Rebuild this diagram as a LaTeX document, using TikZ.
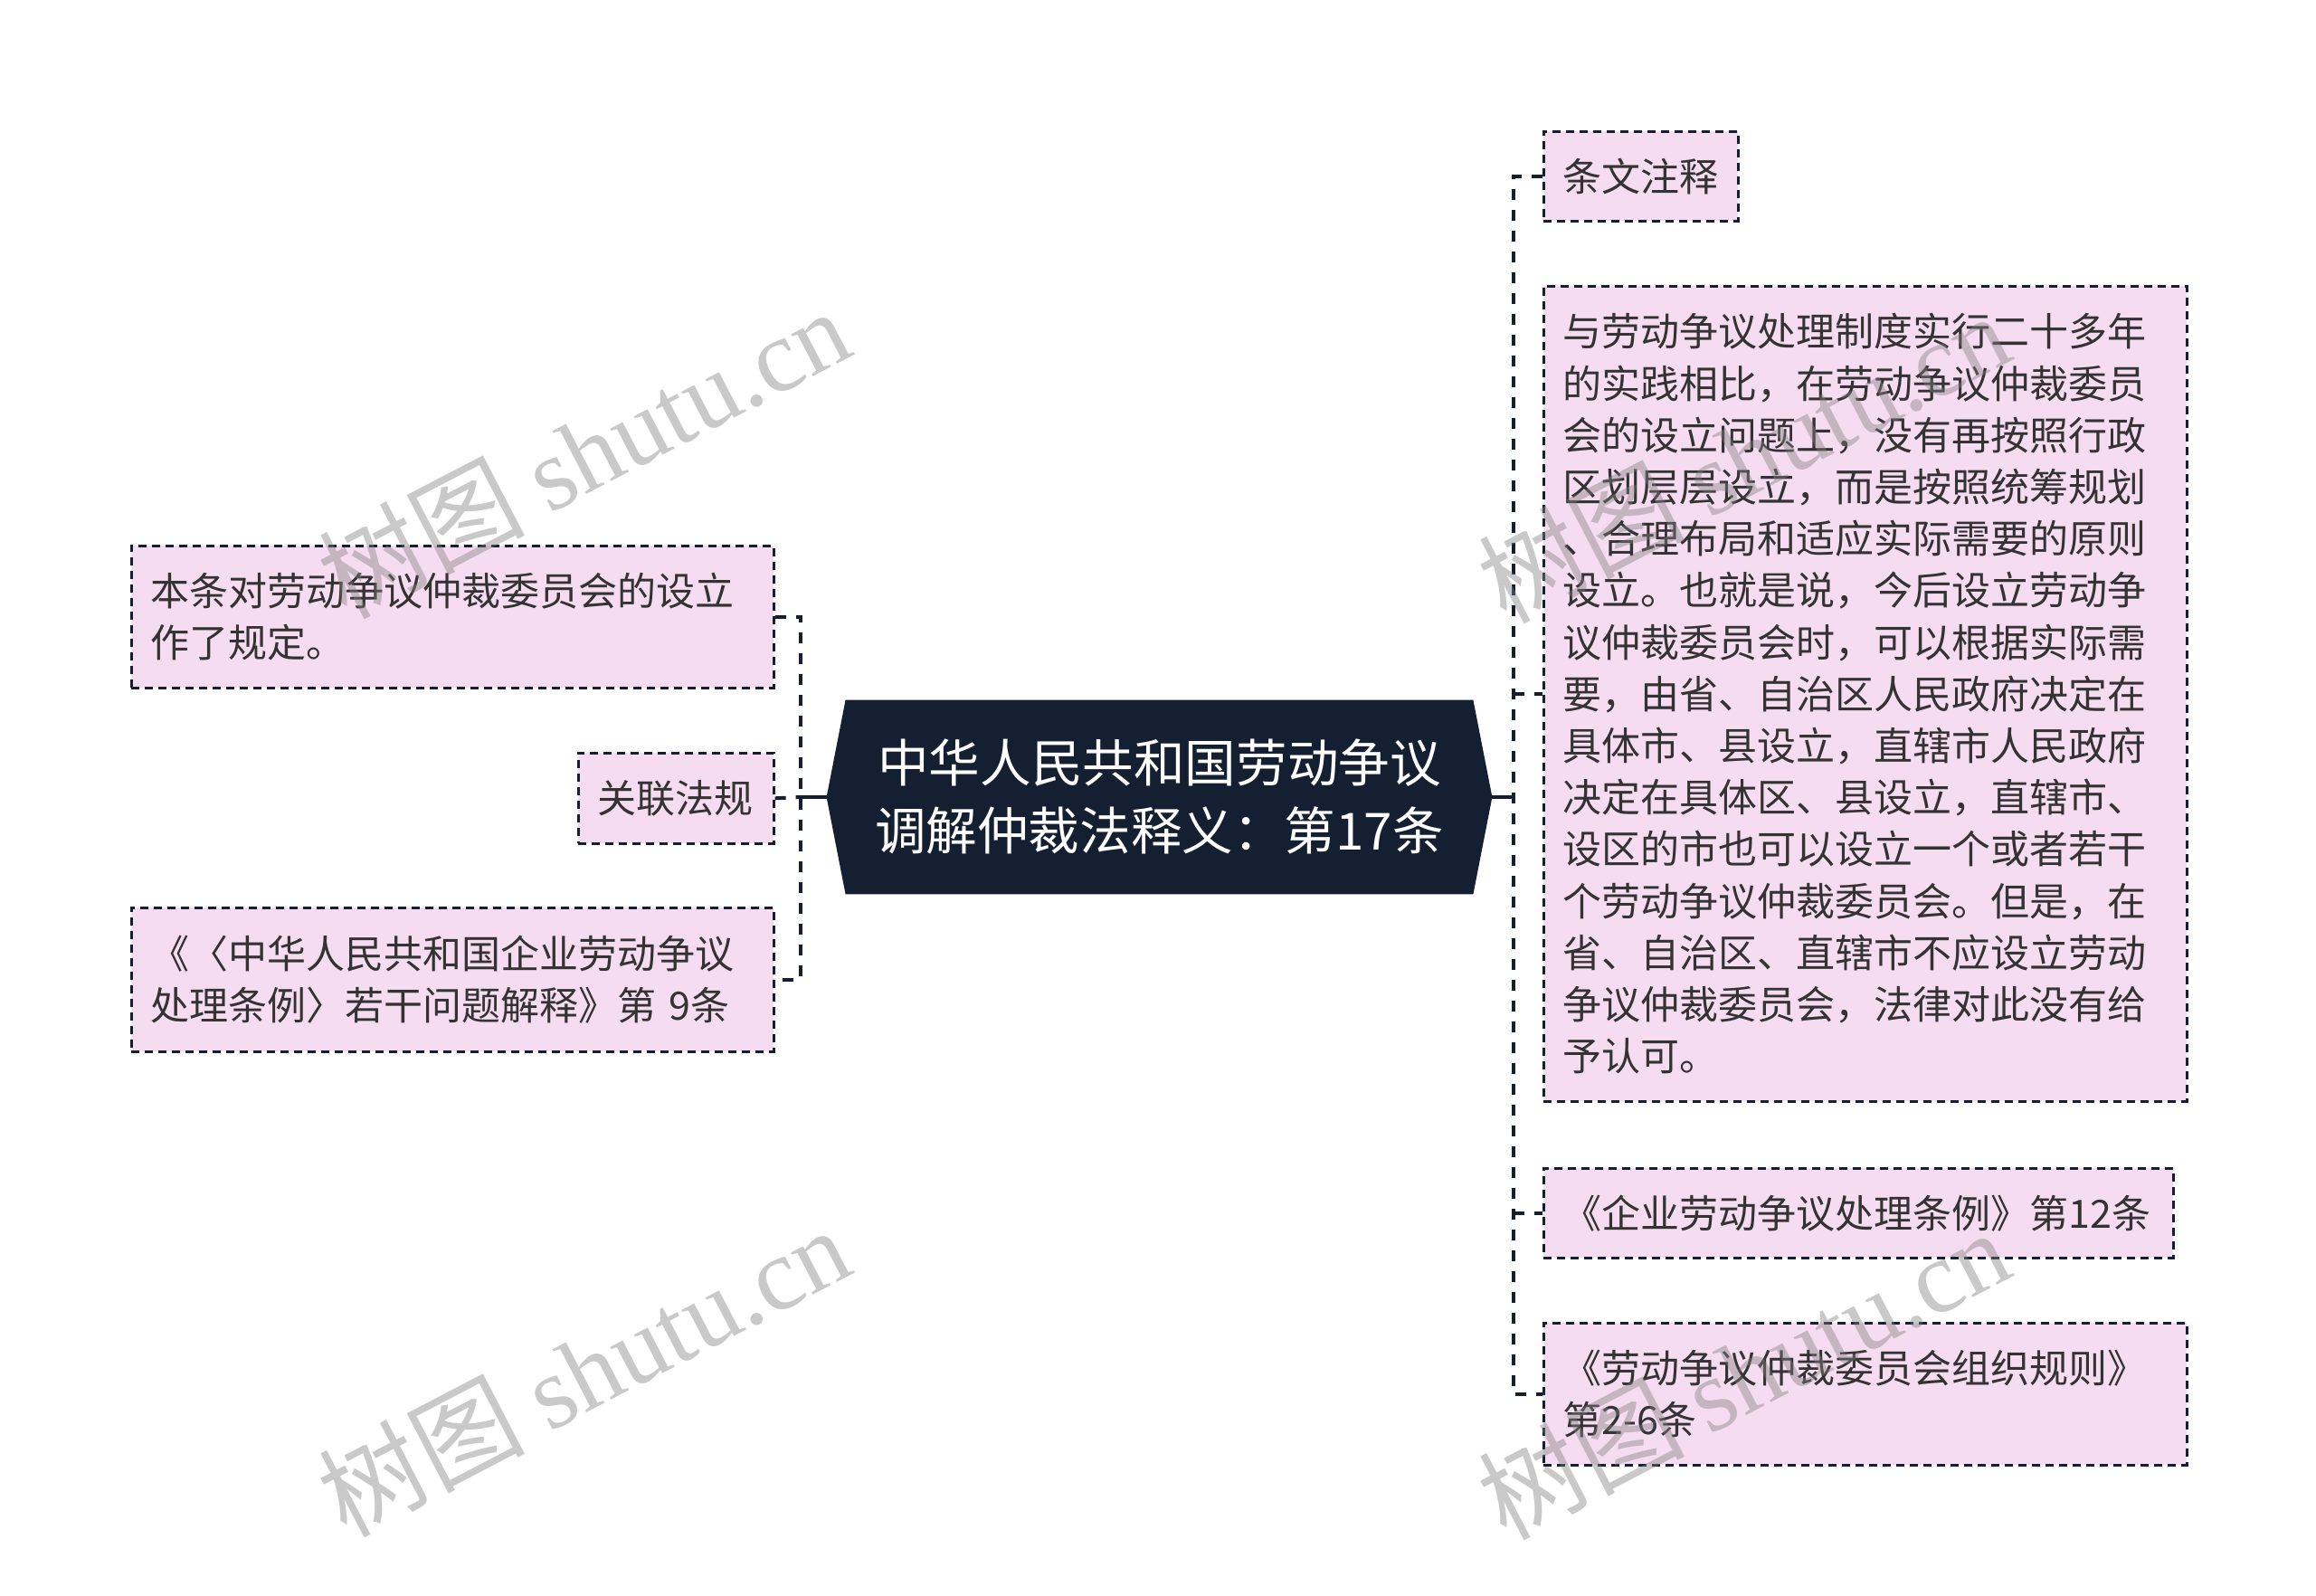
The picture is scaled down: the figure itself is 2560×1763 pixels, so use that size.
\documentclass[tikz,border=0pt]{standalone}
\usepackage{fontspec}
\setmainfont{Noto Sans CJK SC}
\newfontfamily\wmserif{Liberation Serif}
\usetikzlibrary{calc,backgrounds}
\definecolor{boxfill}{HTML}{F6DCF1}
\definecolor{rootfill}{HTML}{142032}
\definecolor{ink}{HTML}{333333}
\definecolor{linec}{HTML}{141F30}
\begin{document}
\begin{tikzpicture}[x=0.5pt,y=-0.5pt,
  leaf/.style={draw=linec, line width=1.3pt, dash pattern=on 4.5pt off 3pt, fill=boxfill,
    anchor=north west, inner xsep=10.5pt, inner ysep=0pt, text=ink, align=left,
    font=\fontsize{21.5pt}{28.6pt}\selectfont},
  conn/.style={draw=linec, line width=2pt, dash pattern=on 6pt off 5.5pt},
  rootline/.style={draw=linec, line width=2pt},
  wm/.style={text=black!50, opacity=0.42, inner sep=0pt, rotate=27.5,
    font=\fontsize{57pt}{57pt}\selectfont}]
\begin{scope}[on background layer]
  \fill[white] (0,0) rectangle (2560,1763);
\end{scope}
\useasboundingbox (0,0) rectangle (2560,1763);

% root
\node[text=white, align=center, inner sep=0pt, minimum width=346.5pt, minimum height=107pt,
  font=\fontsize{28.3pt}{37.5pt}\selectfont] (root) at (1281.5,881)
  {中华人民共和国劳动争议\\调解仲裁法释义：第17条};
\coordinate (rootL) at ($(root.west)+(-21,0)$);
\coordinate (rootR) at ($(root.east)+(21,0)$);
\begin{scope}[on background layer]
  \fill[rootfill] (root.north west) -- (root.north east) -- (rootR) -- (root.south east)
    -- (root.south west) -- (rootL) -- cycle;
\end{scope}

% left leaves
\node[leaf, text width=334pt, minimum height=78.5pt] (A) at (144,602)
  {本条对劳动争议仲裁委员会的设立\\作了规定。};
\node[leaf, text width=87pt, minimum height=50pt] (B) at (638,831) {关联法规};
\node[leaf, text width=334pt, minimum height=79.5pt] (C) at (144,1002)
  {《〈中华人民共和国企业劳动争议\\处理条例〉若干问题解释》第 9条};

% right leaves
\node[leaf, text width=86.5pt, minimum height=49.5pt] (D) at (1705,144) {条文注释};
\node[leaf, text width=334.5pt, minimum height=450.5pt] (E) at (1705,315)
  {与劳动争议处理制度实行二十多年\\的实践相比，在劳动争议仲裁委员\\会的设立问题上，没有再按照行政\\区划层层设立，而是按照统筹规划\\、合理布局和适应实际需要的原则\\设立。也就是说，今后设立劳动争\\议仲裁委员会时，可以根据实际需\\要，由省、自治区人民政府决定在\\具体市、县设立，直辖市人民政府\\决定在具体区、县设立，直辖市、\\设区的市也可以设立一个或者若干\\个劳动争议仲裁委员会。但是，在\\省、自治区、直辖市不应设立劳动\\争议仲裁委员会，法律对此没有给\\予认可。};
\node[leaf, text width=327pt, minimum height=49.5pt] (F) at (1705,1290)
  {《企业劳动争议处理条例》第12条};
\node[leaf, text width=334.5pt, minimum height=78.5pt] (G) at (1705,1461)
  {《劳动争议仲裁委员会组织规则》\\第2-6条};

% junctions
\coordinate (lJ) at (885,881);
\coordinate (rJ) at (1673,881);

% left connectors
\draw[rootline] (rootL) -- (lJ);
\draw[conn] (A.east) -- (A.east -| lJ) -- (C.east -| lJ) -- (C.east);
\draw[conn] (B.east) -- (lJ);

% right connectors
\draw[rootline] (rootR) -- (rJ);
\draw[conn] (D.west) -- (D.west -| rJ) -- (G.west -| rJ) -- (G.west);
\draw[conn] (E.west -| rJ) -- (E.west);
\draw[conn] (F.west -| rJ) -- (F.west);

% watermarks
\node[wm] (wm1) at (645,500) {树图 {\wmserif shutu.cn}};
\node[wm] (wm2) at (645,1515) {树图 {\wmserif shutu.cn}};
\node[wm] (wm3) at (1927,505) {树图 {\wmserif shutu.cn}};
\node[wm] (wm4) at (1927,1518) {树图 {\wmserif shutu.cn}};
\end{tikzpicture}
\end{document}
